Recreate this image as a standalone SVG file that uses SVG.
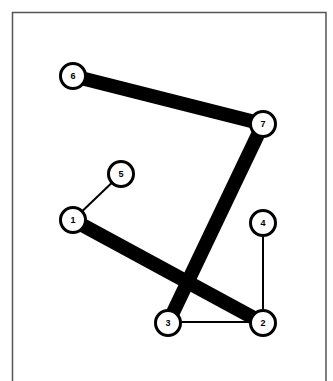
<svg xmlns="http://www.w3.org/2000/svg" width="333" height="381" viewBox="0 0 333 381">
<style>
.frame{fill:#fff;stroke:#555;stroke-width:1.5}
.n circle{fill:#fff;stroke:#000;stroke-width:3}
.n text{font-family:"Liberation Sans",Arial,sans-serif;font-size:9px;font-weight:bold;text-anchor:middle;dominant-baseline:central;fill:#000}
.thick{stroke:#000;stroke-width:14;stroke-linecap:butt}
.thin{stroke:#000;stroke-width:2}
</style>
<rect width="333" height="381" fill="#fff"/>
<rect class="frame" x="12.5" y="12.5" width="313.5" height="380"/>
<g id="edges">
<line class="thick" x1="73" y1="76" x2="263" y2="124"/>
<line class="thick" x1="263" y1="124" x2="168" y2="323"/>
<line class="thick" x1="73" y1="220" x2="263" y2="323"/>
<line class="thin" x1="121" y1="174" x2="73" y2="220"/>
<line class="thin" x1="263" y1="223" x2="263" y2="323"/>
<line class="thin" x1="168" y1="322" x2="263" y2="322"/>
</g>
<g id="node6" class="n"><circle cx="73" cy="76" r="12.5"/><text x="73" y="76">6</text></g>
<g id="node7" class="n"><circle cx="263" cy="124" r="12.5"/><text x="263" y="124">7</text></g>
<g id="node5" class="n"><circle cx="121" cy="174" r="12.5"/><text x="121" y="174">5</text></g>
<g id="node1" class="n"><circle cx="73" cy="220" r="12.5"/><text x="73" y="220">1</text></g>
<g id="node4" class="n"><circle cx="263" cy="223" r="12.5"/><text x="263" y="223">4</text></g>
<g id="node3" class="n"><circle cx="168" cy="323" r="12.5"/><text x="168" y="323">3</text></g>
<g id="node2" class="n"><circle cx="263" cy="323" r="12.5"/><text x="263" y="323">2</text></g>
</svg>
